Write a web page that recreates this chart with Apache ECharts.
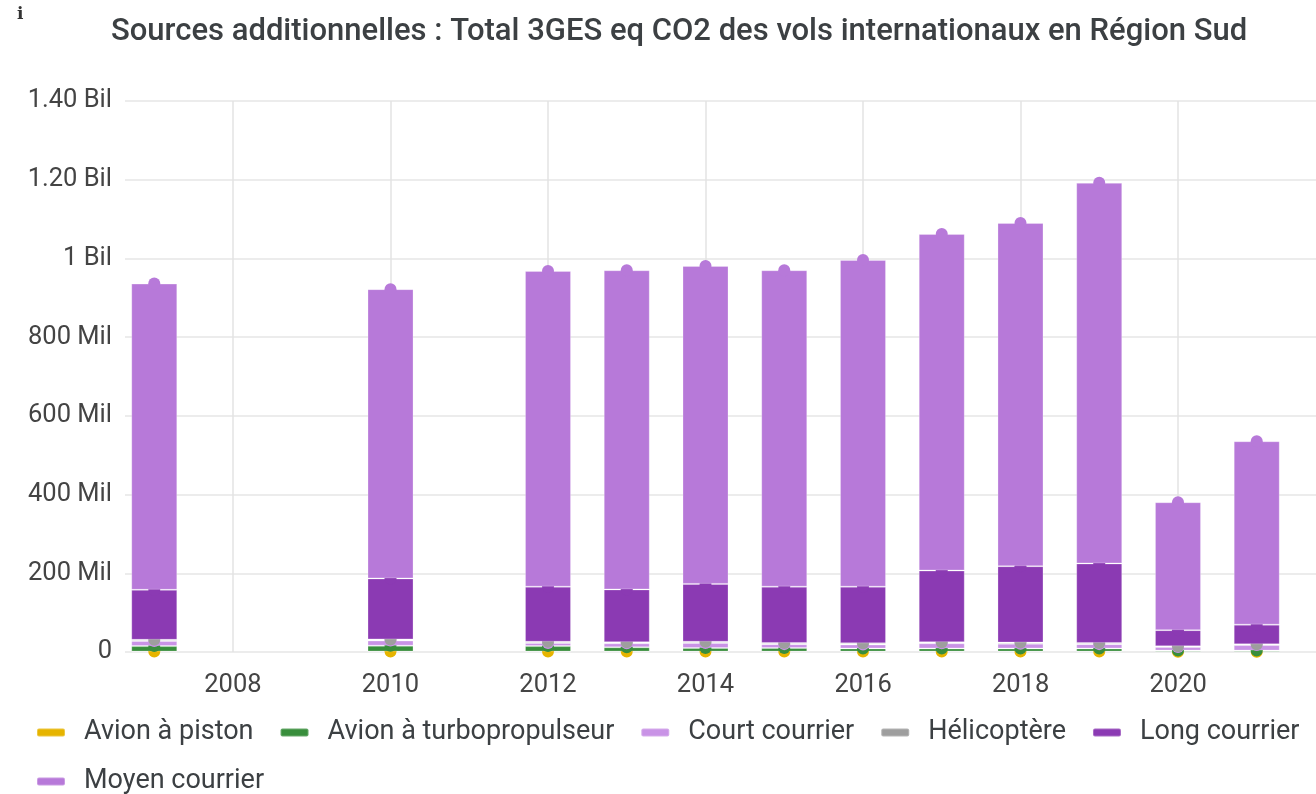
<!DOCTYPE html>
<html>
<head>
<meta charset="utf-8">
<script src="https://cdn.jsdelivr.net/npm/echarts@6/dist/echarts.min.js"></script>
<style>
html,body{margin:0;padding:0;background:#fff;}
#c{width:1316px;height:794px;}
</style>
</head>
<body>
<div id="c"></div>
<script>
// Values in millions of t eq CO2 (null = no data for that year)
var years = ['2007', '2008', '2009', '2010', '2011', '2012', '2013', '2014', '2015', '2016', '2017', '2018', '2019', '2020', '2021'];
var piston = [1, null, null, 1, null, 1, 1, 1, 1, 1, 1, 1, 1, 0.5, 0.5];
var turbo = [14, null, null, 15, null, 14, 11, 9, 9, 8, 8, 8, 8, 3, 3];
var court = [13, null, null, 13, null, 8, 10, 13, 10, 10, 13, 12, 11, 9, 14];
var helico = [3, null, null, 3, null, 3, 3, 3, 3, 3, 3, 3, 3, 2, 2];
var longC = [127, null, null, 155, null, 140, 134, 147, 143, 144, 182, 194, 202, 41, 50];
var moyen = [778, null, null, 735, null, 802, 811, 808, 804, 830, 855, 872, 967, 325, 466];
var seriesNames = ['Avion à piston', 'Avion à turbopropulseur', 'Court courrier', 'Hélicoptère', 'Long courrier', 'Moyen courrier'];
var yTicks = [0, 200, 400, 600, 800, 1000, 1200, 1400];

var seriesData = [piston, turbo, court, helico, longC, moyen];
var colors = ['#e6b400', '#388e3c', '#c993e6', '#9e9e9e', '#8b3ab3', '#b779d9'];

var series = [];
seriesNames.forEach(function (name, i) {
  series.push({
    name: name,
    type: 'bar',
    stack: 'bars',
    barWidth: 46,
    xAxisIndex: 0,
    yAxisIndex: 0,
    z: 10 + 2 * i,
    data: seriesData[i],
    itemStyle: { color: colors[i], borderColor: 'rgba(255,255,255,0.25)', borderWidth: 1 }
  });
  series.push({
    name: name + ' ',
    type: 'line',
    stack: 'dots',
    xAxisIndex: 0,
    yAxisIndex: 0,
    z: 11 + 2 * i,
    data: seriesData[i],
    symbol: 'circle',
    symbolSize: 12,
    showSymbol: true,
    connectNulls: false,
    lineStyle: { width: 0, opacity: 0 },
    itemStyle: { color: colors[i], borderWidth: 0 },
    silent: true
  });
});

var tickFont = { fontFamily: 'Roboto', fontSize: 25.5, color: '#444' };

var chart = echarts.init(document.getElementById('c'), null, { renderer: 'canvas' });
chart.setOption({
  animation: false,
  backgroundColor: '#fff',
  color: colors,
  title: {
    text: 'Sources additionnelles : Total 3GES eq CO2 des vols internationaux en Région Sud',
    left: 106,
    top: 12,
    textStyle: { fontFamily: 'Roboto', fontWeight: 500, fontSize: 31, color: '#3c4043' }
  },
  graphic: [{
    type: 'text',
    left: 17,
    top: 6,
    style: { text: 'i', font: 'bold 17px "DejaVu Serif"', fill: '#333' }
  }],
  grid: [
    { left: 114.9, right: 19.9, top: 101, bottom: 142, containLabel: false },
    { left: 125, right: 0, top: 101, bottom: 142, containLabel: false }
  ],
  xAxis: [{
    type: 'category',
    gridIndex: 0,
    data: years,
    boundaryGap: true,
    show: false
  }, {
    type: 'value',
    gridIndex: 1,
    min: 2006.63,
    max: 2021.75,
    splitNumber: 7,
    axisLine: { show: false },
    axisTick: { show: false },
    axisLabel: Object.assign({
      margin: 21,
      showMinLabel: false,
      showMaxLabel: false,
      formatter: function (v) { return (Math.abs(v - Math.round(v)) < 1e-6 && Math.round(v) % 2 === 0) ? String(Math.round(v)) : ''; }
    }, tickFont),
    splitLine: { show: true, showMinLine: false, showMaxLine: false, lineStyle: { color: '#e3e3e3', width: 1.5 } }
  }],
  yAxis: [{
    type: 'value',
    gridIndex: 0,
    min: yTicks[0],
    max: yTicks[yTicks.length - 1],
    interval: 200,
    show: false
  }, {
    type: 'value',
    gridIndex: 1,
    min: yTicks[0],
    max: yTicks[yTicks.length - 1],
    interval: 200,
    axisLine: { show: false },
    axisTick: { show: false },
    axisLabel: Object.assign({
      margin: 13,
      formatter: function (v) {
        if (v === 0) return '0';
        if (v < 1000) return v + ' Mil';
        if (v === 1000) return '1 Bil';
        return (v / 1000).toFixed(2) + ' Bil';
      }
    }, tickFont),
    splitLine: { show: true, lineStyle: { color: '#e6e6e6', width: 1.5 } }
  }],
  legend: {
    data: seriesNames,
    left: 31,
    right: 0,
    top: 714,
    icon: 'roundRect',
    itemWidth: 28,
    itemHeight: 8,
    itemGap: 22,
    textStyle: { fontFamily: 'Roboto', fontSize: 27, color: '#3c4043', padding: [0, 4, 0, 14], lineHeight: 22 }
  },
  series: series
});
</script>
</body>
</html>
